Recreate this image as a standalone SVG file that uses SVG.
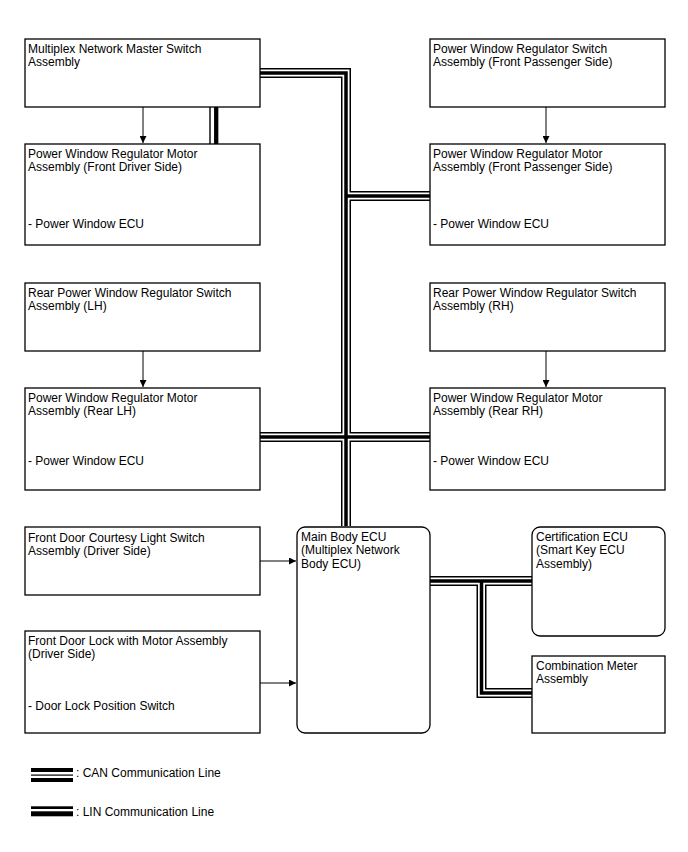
<svg xmlns="http://www.w3.org/2000/svg" width="688" height="852" viewBox="0 0 688 852">
<style>
text{font-family:"Liberation Sans",Arial,sans-serif;font-size:12px;fill:#000}
.box{fill:#fff;stroke:#000;stroke-width:1.3}
.arr{fill:none;stroke:#000;stroke-width:1}
.c1{fill:none;stroke:#000;stroke-width:10;stroke-linejoin:miter}
.c2{fill:none;stroke:#fff;stroke-width:7;stroke-linejoin:miter}
.c3{fill:none;stroke:#000;stroke-width:3.5;stroke-linejoin:miter}
</style>
<defs>
<marker id="ah" viewBox="0 0 10 10" refX="10" refY="5" markerWidth="8" markerHeight="7" markerUnits="userSpaceOnUse" orient="auto">
<path d="M0,0 L10,5 L0,10 Z" fill="#000"/>
</marker>
</defs>
<rect width="688" height="852" fill="#fff"/>
<g id="connectors">
<path class="arr" d="M143,107 V143" marker-end="url(#ah)"/>
<path class="arr" d="M546,107 V143" marker-end="url(#ah)"/>
<path class="arr" d="M143,351 V387" marker-end="url(#ah)"/>
<path class="arr" d="M546,351 V387" marker-end="url(#ah)"/>
<path class="arr" d="M260,561 H296" marker-end="url(#ah)"/>
<path class="arr" d="M260,683 H296" marker-end="url(#ah)"/>
<g id="lin">
<path d="M210,107 V144" stroke="#000" stroke-width="1.4"/>
<path d="M216.2,107 V144" stroke="#000" stroke-width="4.3"/>
</g>
<g id="can1">
<path class="c1" d="M260,73 H346 V526 M346,196 H430 M260,437 H430"/>
<path class="c2" d="M260,73 H346 V526 M346,196 H430 M260,437 H430"/>
<path class="c3" d="M260,73 H346 V526 M346,196 H430 M260,437 H430"/>
</g>
<g id="can2">
<path class="c1" d="M430,581 H532 M481.5,581 V693 H532"/>
<path class="c2" d="M430,581 H532 M481.5,581 V693 H532"/>
<path class="c3" d="M430,581 H532 M481.5,581 V693 H532"/>
</g>
</g>
<g id="master">
<rect class="box" x="25" y="39" width="235" height="68"/>
<text x="28" y="53">Multiplex Network Master Switch</text>
<text x="28" y="66.3">Assembly</text>
</g>
<g id="motor-fd">
<rect class="box" x="25" y="144" width="235" height="101"/>
<text x="28" y="158">Power Window Regulator Motor</text>
<text x="28" y="171.3">Assembly (Front Driver Side)</text>
<text x="28" y="228">- Power Window ECU</text>
</g>
<g id="switch-rl">
<rect class="box" x="25" y="283" width="235" height="68"/>
<text x="28" y="297">Rear Power Window Regulator Switch</text>
<text x="28" y="310.3">Assembly (LH)</text>
</g>
<g id="motor-rl">
<rect class="box" x="25" y="388" width="235" height="102"/>
<text x="28" y="402">Power Window Regulator Motor</text>
<text x="28" y="415.3">Assembly (Rear LH)</text>
<text x="28" y="465">- Power Window ECU</text>
</g>
<g id="courtesy">
<rect class="box" x="25" y="527" width="235" height="68"/>
<text x="28" y="542">Front Door Courtesy Light Switch</text>
<text x="28" y="555.3">Assembly (Driver Side)</text>
</g>
<g id="doorlock">
<rect class="box" x="25" y="631" width="235" height="102"/>
<text x="28" y="645">Front Door Lock with Motor Assembly</text>
<text x="28" y="658.3">(Driver Side)</text>
<text x="28" y="710">- Door Lock Position Switch</text>
</g>
<g id="switch-fp">
<rect class="box" x="430" y="39" width="235" height="68"/>
<text x="433" y="53">Power Window Regulator Switch</text>
<text x="433" y="66.3">Assembly (Front Passenger Side)</text>
</g>
<g id="motor-fp">
<rect class="box" x="430" y="144" width="235" height="101"/>
<text x="433" y="158">Power Window Regulator Motor</text>
<text x="433" y="171.3">Assembly (Front Passenger Side)</text>
<text x="433" y="228">- Power Window ECU</text>
</g>
<g id="switch-rr">
<rect class="box" x="430" y="283" width="235" height="68"/>
<text x="433" y="297">Rear Power Window Regulator Switch</text>
<text x="433" y="310.3">Assembly (RH)</text>
</g>
<g id="motor-rr">
<rect class="box" x="430" y="388" width="235" height="102"/>
<text x="433" y="402">Power Window Regulator Motor</text>
<text x="433" y="415.3">Assembly (Rear RH)</text>
<text x="433" y="465">- Power Window ECU</text>
</g>
<g id="main-body">
<rect class="box" x="297" y="527" width="133" height="206" rx="8" ry="8"/>
<text x="301" y="541">Main Body ECU</text>
<text x="301" y="554.3">(Multiplex Network</text>
<text x="301" y="567.6">Body ECU)</text>
</g>
<g id="certification">
<rect class="box" x="532" y="527" width="133" height="109" rx="8" ry="8"/>
<text x="536" y="541">Certification ECU</text>
<text x="536" y="554.3">(Smart Key ECU</text>
<text x="536" y="567.6">Assembly)</text>
</g>
<g id="meter">
<rect class="box" x="532" y="656" width="133" height="77"/>
<text x="536" y="670">Combination Meter</text>
<text x="536" y="683.3">Assembly</text>
</g>
<g id="legend">
<rect x="31" y="768" width="42" height="4" fill="#000"/>
<rect x="31" y="774.5" width="42" height="1.2" fill="#000"/>
<rect x="31" y="778" width="42" height="4" fill="#000"/>
<text x="76" y="777">: CAN Communication Line</text>
<rect x="31" y="806.3" width="42" height="2.7" fill="#000"/>
<rect x="31" y="811.3" width="42" height="5" fill="#000"/>
<text x="76" y="816">: LIN Communication Line</text>
</g>
</svg>
